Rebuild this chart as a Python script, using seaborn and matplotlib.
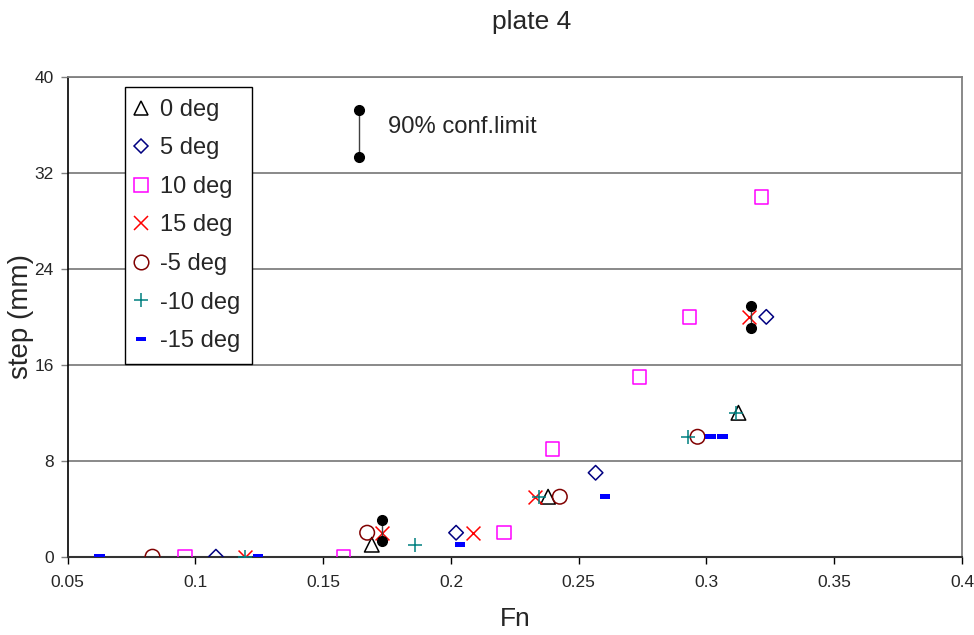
import matplotlib
matplotlib.use("Agg")
import matplotlib.pyplot as plt
from matplotlib.lines import Line2D
import seaborn as sns
import pandas as pd

# ---- data ----
fn_0 = [0.169, 0.238, 0.3125]
step_0 = [1, 5, 12]
fn_5 = [0.108, 0.202, 0.2566, 0.3234]
step_5 = [0, 2, 7, 20]
fn_10 = [0.096, 0.158, 0.2207, 0.2398, 0.2738, 0.2934, 0.3215]
step_10 = [0, 0, 2, 9, 15, 20, 30]
fn_15 = [0.1195, 0.173, 0.2086, 0.2328, 0.3168]
step_15 = [0, 2, 2, 5, 20]
fn_m5 = [0.0832, 0.1672, 0.2426, 0.2965]
step_m5 = [0, 2, 5, 10]
fn_m10 = [0.1195, 0.1859, 0.2344, 0.2926, 0.3117]
step_m10 = [0, 1, 5, 10, 12]
fn_m15 = [0.0625, 0.1246, 0.2035, 0.2602, 0.3016, 0.3063]
step_m15 = [0, 0, 1, 5, 10, 10]

conf_fn = [0.173, 0.3175]
conf_lo = [1.35, 19.1]
conf_hi = [3.1, 20.9]
key_fn = 0.164
key_lo = 33.3
key_hi = 37.25

series_labels = ["0 deg", "5 deg", "10 deg", "15 deg", "-5 deg", "-10 deg", "-15 deg"]
x_ticks = [0.05, 0.1, 0.15, 0.2, 0.25, 0.3, 0.35, 0.4]
x_tick_labels = ["0.05", "0.1", "0.15", "0.2", "0.25", "0.3", "0.35", "0.4"]
y_ticks = [0, 8, 16, 24, 32, 40]

# ---- style ----
sns.set_style("white")
plt.rcParams["font.family"] = ["Liberation Sans", "DejaVu Sans"]

dash = [(-1, -0.45), (1, -0.45), (1, 0.45), (-1, 0.45), (-1, -0.45)]
styles = [
    dict(marker="^", color="#000000", s=110, filled=True),
    dict(marker="D", color="#000080", s=55, filled=True),
    dict(marker="s", color="#FF00FF", s=95, filled=True),
    dict(marker="x", color="#FF0000", s=100, filled=False),
    dict(marker="o", color="#800000", s=110, filled=True),
    dict(marker="+", color="#008080", s=115, filled=False),
    dict(marker=dash, color="#0000FF", s=55, filled="solid"),
]
data = [(fn_0, step_0), (fn_5, step_5), (fn_10, step_10), (fn_15, step_15),
        (fn_m5, step_m5), (fn_m10, step_m10), (fn_m15, step_m15)]

fig = plt.figure(figsize=(9.74, 6.35), dpi=100)
ax = fig.add_axes([0.0695, 0.1233, 0.9182, 0.7554])

# grid
for yv in y_ticks[1:]:
    ax.axhline(yv, color="#808080", lw=1.3, zorder=0)

handles = []
for (xs, ys), st, lab in zip(data, styles, series_labels):
    df = pd.DataFrame({"Fn": xs, "step": ys})
    ms = st["s"] ** 0.5
    if st["filled"] is True:
        sns.scatterplot(data=df, x="Fn", y="step", marker=st["marker"], s=st["s"],
                        color=st["color"], facecolors="none", edgecolors=st["color"],
                        linewidths=1.1, ax=ax, zorder=3, legend=False)
        h = Line2D([], [], marker=st["marker"], linestyle="none", markerfacecolor="none",
                   markeredgecolor=st["color"], markeredgewidth=1.1, markersize=ms)
    elif st["filled"] is False:
        sns.scatterplot(data=df, x="Fn", y="step", marker=st["marker"], s=st["s"],
                        color=st["color"], linewidths=1.1, ax=ax, zorder=3, legend=False)
        h = Line2D([], [], marker=st["marker"], linestyle="none",
                   color=st["color"], markeredgewidth=1.1, markersize=ms)
    else:
        sns.scatterplot(data=df, x="Fn", y="step", marker=st["marker"], s=st["s"],
                        color=st["color"], edgecolor="none", linewidth=0, ax=ax,
                        zorder=3, legend=False)
        h = Line2D([], [], marker=st["marker"], linestyle="none",
                   color=st["color"], markeredgewidth=0, markersize=ms)
    handles.append(h)

# confidence limits
for xv, lo, hi in zip(conf_fn + [key_fn], conf_lo + [key_lo], conf_hi + [key_hi]):
    ax.plot([xv, xv], [lo, hi], color="#404040", lw=1.0, zorder=4)
    ax.plot([xv, xv], [lo, hi], linestyle="none", marker="o", markersize=7,
            color="black", zorder=5)
ax.text(0.1755, 35.8, "90% conf.limit", fontsize=17.2, va="center", ha="left")

ax.set_xlim(0.05, 0.4)
ax.set_ylim(0, 40)
ax.set_xticks(x_ticks)
ax.set_xticklabels(x_tick_labels)
ax.set_yticks(y_ticks)
ax.tick_params(axis="x", direction="out", length=5, width=1, color="black",
               labelsize=12.5, pad=8, bottom=True)
ax.tick_params(axis="y", direction="out", length=5, width=1, color="#808080",
               labelsize=12.5, pad=5, left=True)

for side in ["top", "right"]:
    ax.spines[side].set_color("#808080")
    ax.spines[side].set_linewidth(1.3)
ax.spines["left"].set_color("black")
ax.spines["left"].set_linewidth(1.2)
ax.spines["bottom"].set_color("#333333")
ax.spines["bottom"].set_linewidth(1.5)

ax.set_xlabel("Fn", fontsize=19)
ax.set_ylabel("step (mm)", fontsize=20)
ax.xaxis.set_label_coords(0.5, -0.105)
ax.yaxis.set_label_coords(-0.038, 0.5)

fig.text(532 / 974, 1 - 22 / 635, "plate 4", fontsize=19, ha="center", va="center")

leg = ax.legend(handles, series_labels, loc="upper left", bbox_to_anchor=(0.064, 0.979),
                borderaxespad=0, fontsize=17, frameon=True, fancybox=False,
                edgecolor="black", framealpha=1, labelspacing=0.70, handlelength=0.4,
                handletextpad=0.58, borderpad=0.5)
leg.get_frame().set_linewidth(1.0)

fig.savefig("out.png", dpi=100)
